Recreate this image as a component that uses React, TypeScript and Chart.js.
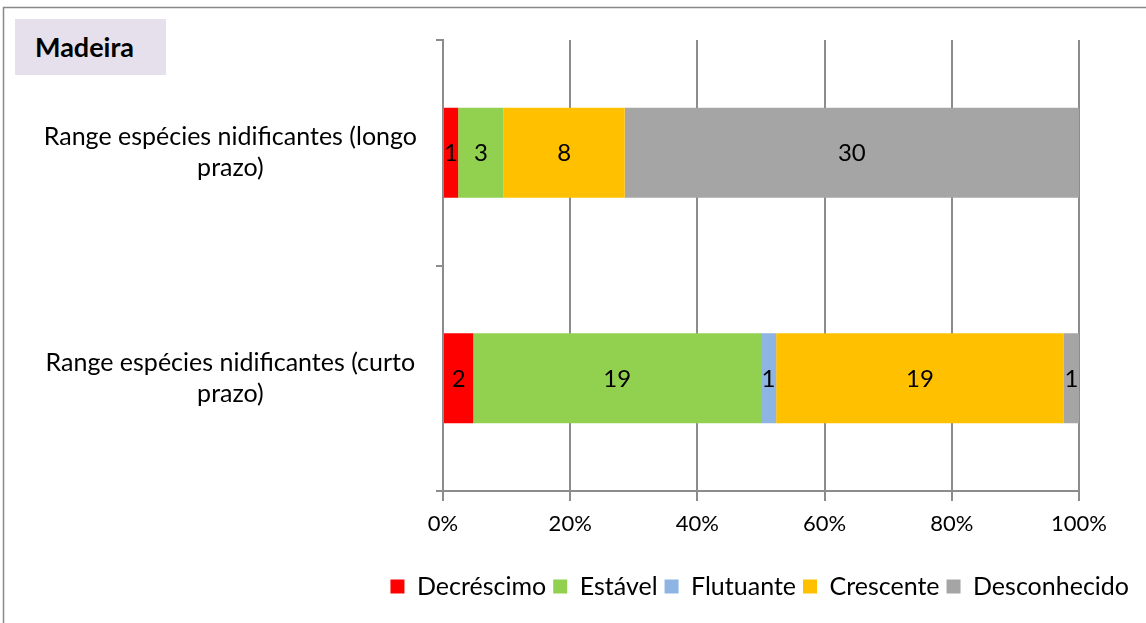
import React, { useEffect, useRef } from "react";
import { Chart, registerables } from "chart.js";

Chart.register(...registerables);

// Categories (multi-line axis labels)
const categories: string[][] = [
  ["Range espécies nidificantes (longo", "prazo)"],
  ["Range espécies nidificantes (curto", "prazo)"],
];

// Species counts per trend class
const seriesNames = ["Decréscimo", "Estável", "Flutuante", "Crescente", "Desconhecido"];
const seriesColors = ["#ff0000", "#92d050", "#8eb4e3", "#ffc000", "#a5a5a5"];
const decrescimo = [1, 2];
const estavel = [3, 19];
const flutuante = [0, 1];
const crescente = [8, 19];
const desconhecido = [30, 1];

const xTickValues = [0, 20, 40, 60, 80, 100];
const chartTitle = "Madeira";

const FONT = "Lato";
const GRID = "#8c8c8c";

const seriesCounts = [decrescimo, estavel, flutuante, crescente, desconhecido];
const totals = categories.map((_, i) => seriesCounts.reduce((s, arr) => s + arr[i], 0));

// Counts drawn in the middle of each segment
const countLabels = {
  id: "countLabels",
  afterDatasetsDraw(chart: any) {
    const ctx = chart.ctx;
    ctx.save();
    ctx.font = `24px ${FONT}`;
    ctx.fillStyle = "#000";
    ctx.textAlign = "center";
    ctx.textBaseline = "middle";
    chart.data.datasets.forEach((ds: any, di: number) => {
      const meta = chart.getDatasetMeta(di);
      meta.data.forEach((bar: any, i: number) => {
        const count = ds.counts[i];
        if (!count) return;
        const cx = (bar.x + bar.base) / 2;
        ctx.fillText(String(count), cx, bar.y + 1);
      });
    });
    ctx.restore();
  },
};

// Outer frame of the chart
const frame = {
  id: "frame",
  beforeDraw(chart: any) {
    const ctx = chart.ctx;
    ctx.save();
    ctx.strokeStyle = "#898989";
    ctx.lineWidth = 1.5;
    ctx.strokeRect(3.5, 7.5, chart.width + 20, chart.height + 20);
    ctx.restore();
  },
};

export default function App() {
  const canvasRef = useRef<HTMLCanvasElement | null>(null);

  useEffect(() => {
    if (!canvasRef.current) return;
    const datasets = seriesNames.map((name, si) => ({
      label: name,
      counts: seriesCounts[si],
      data: seriesCounts[si].map((v, i) => (v / totals[i]) * 100),
      backgroundColor: seriesColors[si],
      borderWidth: 0,
      categoryPercentage: 1,
      barPercentage: 0.4,
    }));

    const chart = new Chart(canvasRef.current, {
      type: "bar",
      data: { labels: categories, datasets: datasets as any },
      plugins: [frame, countLabels],
      options: {
        indexAxis: "y",
        responsive: false,
        animation: false,
        layout: { padding: { left: 4, top: 40, right: 10, bottom: 14 } },
        scales: {
          x: {
            stacked: true,
            min: 0,
            max: 100,
            afterBuildTicks: (s: any) => {
              s.ticks = xTickValues.map((v) => ({ value: v }));
            },
            afterFit: (s: any) => {
              s.height = 76;
              s.paddingLeft = 0;
              s.paddingRight = 0;
            },
            ticks: {
              callback: (v: any) => `${v}%`,
              color: "#000",
              font: { family: FONT, size: 22 },
              padding: 10,
            },
            grid: { color: GRID, lineWidth: 2, tickLength: 10 },
            border: { color: GRID, width: 2 },
          },
          y: {
            stacked: true,
            afterFit: (s: any) => {
              s.width = 439;
              s.paddingTop = 0;
              s.paddingBottom = 0;
            },
            ticks: {
              color: "#000",
              crossAlign: "center",
              padding: 19,
              font: { family: FONT, size: 25, lineHeight: 1.24 },
            },
            grid: { drawOnChartArea: false, offset: true, tickLength: 7, color: GRID, lineWidth: 2 },
            border: { color: GRID, width: 2 },
          },
          pad: {
            position: "right",
            display: true,
            grid: { display: false },
            ticks: { display: false },
            border: { display: false },
            afterFit: (s: any) => {
              s.width = 57;
            },
          },
        },
        plugins: {
          legend: {
            position: "bottom",
            align: "end",
            labels: {
              boxWidth: 14,
              boxHeight: 14,
              padding: 7,
              color: "#000",
              font: { family: FONT, size: 25 },
            },
          },
          tooltip: { enabled: false },
          title: { display: false },
        },
      } as any,
    });
    return () => chart.destroy();
  }, []);

  return (
    <div style={{ position: "fixed", left: 0, top: 0, width: 1146, height: 623, overflow: "hidden", background: "#fff" }}>
      <canvas ref={canvasRef} width={1146} height={623} style={{ position: "absolute", left: 0, top: 0 }} />
      <div
        style={{
          position: "absolute",
          left: 15,
          top: 19,
          width: 151,
          height: 56,
          background: "#e6e0ec",
          fontFamily: FONT,
          fontWeight: 700,
          fontSize: 27,
          lineHeight: "56px",
          paddingLeft: 20,
          boxSizing: "border-box",
          color: "#000",
        }}
      >
        {chartTitle}
      </div>
    </div>
  );
}
